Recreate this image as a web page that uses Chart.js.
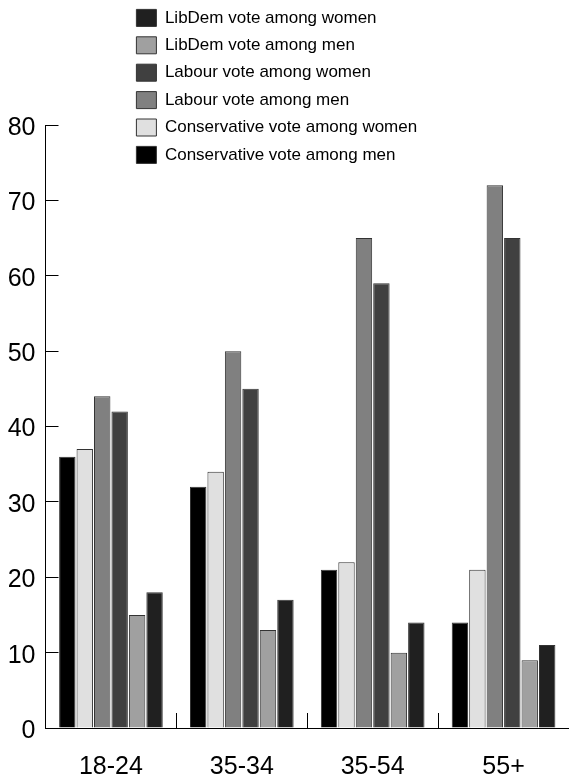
<!DOCTYPE html>
<html><head><meta charset="utf-8">
<script src="https://cdn.jsdelivr.net/npm/chart.js@4/dist/chart.umd.min.js"></script>
<style>html,body{margin:0;padding:0;background:#fff;}#wrap{width:569px;height:774px;}</style>
</head><body><div id="wrap"><canvas id="c" width="569" height="774"></canvas></div>
<script>
const categories = ['18-24', '35-34', '35-54', '55+'];
const conservativeMen = [36, 32, 21, 14];
const conservativeWomen = [37, 34, 22, 21];
const labourMen = [44, 50, 65, 72];
const labourWomen = [42, 45, 59, 65];
const libdemMen = [15, 13, 10, 9];
const libdemWomen = [18, 17, 14, 11];
const yMin = 0, yMax = 80, yStep = 10;

const FONT = '"Liberation Sans", Arial, Helvetica, sans-serif';

const legendMover = {
  id: 'legendMover',
  afterLayout(chart) {
    const lg = chart.legend;
    if (!lg) return;
    const w = lg.width, h = lg.height;
    lg.left = 126; lg.top = -1; lg.right = lg.left + w; lg.bottom = lg.top + h;
  }
};

function ds(label, data, color) {
  return { label, data, backgroundColor: color, borderColor: '#333', borderWidth: 1,
           categoryPercentage: 0.8, barPercentage: 0.94 };
}

new Chart(document.getElementById('c'), {
  type: 'bar',
  data: {
    labels: categories,
    datasets: [
      ds('Conservative vote among men', conservativeMen, '#000000'),
      ds('Conservative vote among women', conservativeWomen, '#e0e0e0'),
      ds('Labour vote among men', labourMen, '#808080'),
      ds('Labour vote among women', labourWomen, '#404040'),
      ds('LibDem vote among men', libdemMen, '#a0a0a0'),
      ds('LibDem vote among women', libdemWomen, '#202020')
    ]
  },
  options: {
    responsive: false,
    animation: false,
    devicePixelRatio: 1,
    layout: { padding: { top: 125, left: 8, right: 0, bottom: 0 } },
    plugins: {
      tooltip: { enabled: false },
      legend: {
        position: 'chartArea',
        align: 'start',
        reverse: true,
        labels: {
          boxWidth: 20, boxHeight: 17, padding: 10.4, color: '#000',
          font: { family: FONT, size: 17, lineHeight: 1.2 }
        }
      }
    },
    scales: {
      x: {
        afterFit(scale) { scale.height = 46; },
        ticks: { color: '#000', font: { family: FONT, size: 25, lineHeight: 0.8 }, padding: 44, maxRotation: 0 },
        grid: { drawOnChartArea: false, drawTicks: true, tickLength: -15, offset: true,
                color: (ctx) => ctx.type === 'tick' ? '#000' : 'rgba(0,0,0,0)', lineWidth: 1 },
        border: { display: true, color: '#000', width: 1 }
      },
      y: {
        min: yMin, max: yMax,
        afterFit(scale) { scale.width = 37.5; },
        ticks: { stepSize: yStep, color: '#000', font: { family: FONT, size: 25 }, padding: 23, labelOffset: 3 },
        grid: { drawOnChartArea: false, drawTicks: true, tickLength: -13, color: '#000', lineWidth: 1 },
        border: { display: true, color: '#000', width: 1 }
      }
    }
  },
  plugins: [legendMover]
});
</script></body></html>
